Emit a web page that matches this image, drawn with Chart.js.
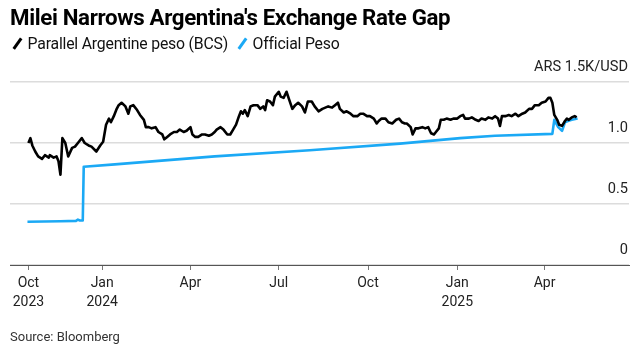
<!DOCTYPE html>
<html>
<head>
<meta charset="utf-8">
<script src="https://cdn.jsdelivr.net/npm/chart.js@4.4.1/dist/chart.umd.min.js"></script>
<style>
  html, body { margin: 0; padding: 0; background: #fff; }
  body { width: 640px; height: 352px; position: relative; overflow: hidden; font-family: Roboto, "Liberation Sans", sans-serif; color: #111; }
  #chart { position: absolute; left: 0; top: 0; }
  #title { position: absolute; left: 10px; top: 4px; font-size: 22.3px; font-weight: 700; letter-spacing: -0.35px; color: #000; }
  #legend { position: absolute; left: 12px; top: 34px; font-size: 15.8px; letter-spacing: -0.2px; color: #111; white-space: nowrap; }
  #legend .key { display: inline-block; width: 2.6px; height: 13px; transform: rotate(35deg); margin: 0 9px 0 4px; vertical-align: -1px; }
  #legend .item { margin-right: 9px; }
  #source { position: absolute; left: 10px; top: 329px; font-size: 13px; color: #333; }
</style>
</head>
<body>
<canvas id="chart" width="640" height="352"></canvas>
<div id="title">Milei Narrows Argentina's Exchange Rate Gap</div>
<div id="legend"><span class="key" style="background:#000"></span><span class="item">Parallel Argentine peso (BCS)</span><span class="key" style="background:#1ba9f5"></span><span class="item">Official Peso</span></div>
<div id="source">Source: Bloomberg</div>
<script>
// x values are days since 2024-01-01, y values are thousands of ARS per USD
const tickDays = [-76, 0, 91, 182, 274, 366, 456];
const tickLabels = [['Oct', '2023'], ['Jan', '2024'], ['Apr'], ['Jul'], ['Oct'], ['Jan', '2025'], ['Apr']];
const yTicks = [0, 0.5, 1.0, 1.5];
const yTickLabels = ['0', '0.5', '1.0', 'ARS 1.5K/USD'];

const parallelDays = [
  -76, -74, -72, -69, -66, -62, -59, -55, -54, -50, -47, -45, -43, -41, -38, -35, -31, -28, -24, -21,
  -18, -14, -11, -6, -2, 1, 4, 7, 9, 12, 15, 17, 20, 24, 27, 29, 32, 36, 39, 43,
  45, 48, 51, 55, 58, 62, 64, 67, 70, 74, 77, 80, 84, 87, 91, 93, 96, 99, 103, 106,
  110, 113, 116, 118, 122, 125, 129, 132, 135, 138, 141, 143, 145, 147, 150, 153, 156, 160, 163, 166,
  168, 170, 173, 176, 178, 182, 184, 187, 190, 193, 196, 199, 202, 206, 209, 212, 216, 219, 223, 227,
  230, 233, 237, 240, 243, 245, 249, 252, 256, 259, 263, 266, 269, 273, 276, 280, 283, 285, 288, 292,
  295, 299, 303, 306, 309, 312, 314, 318, 320, 323, 326, 330, 333, 336, 339, 342, 344, 347, 349, 352,
  355, 359, 362, 366, 369, 372, 374, 378, 381, 385, 388, 391, 395, 398, 402, 405, 408, 410, 412, 416,
  419, 422, 426, 429, 433, 436, 440, 443, 446, 450, 453, 457, 460, 462, 464, 466, 469, 471, 474, 477,
  479, 481, 484, 487, 489
];
const parallelValues = [
  1.00, 1.04, 0.98, 0.93, 0.89, 0.87, 0.90, 0.88, 0.90, 0.88, 0.89, 0.85, 0.74, 1.04, 1.00, 0.89, 0.96, 0.97, 1.01, 1.04,
  1.00, 0.98, 0.97, 0.93, 0.98, 1.01, 1.15, 1.20, 1.17, 1.22, 1.28, 1.31, 1.33, 1.30, 1.24, 1.30, 1.31, 1.27, 1.23, 1.19,
  1.13, 1.13, 1.12, 1.13, 1.09, 1.07, 1.03, 1.05, 1.07, 1.09, 1.09, 1.11, 1.09, 1.10, 1.13, 1.07, 1.05, 1.05, 1.07, 1.07,
  1.06, 1.07, 1.09, 1.11, 1.13, 1.11, 1.07, 1.07, 1.11, 1.15, 1.22, 1.26, 1.24, 1.27, 1.22, 1.30, 1.31, 1.31, 1.28, 1.30,
  1.27, 1.35, 1.34, 1.31, 1.38, 1.42, 1.38, 1.37, 1.42, 1.35, 1.28, 1.31, 1.33, 1.30, 1.25, 1.34, 1.34, 1.30, 1.26, 1.28,
  1.29, 1.30, 1.29, 1.31, 1.33, 1.28, 1.25, 1.26, 1.24, 1.22, 1.22, 1.24, 1.24, 1.22, 1.22, 1.20, 1.16, 1.18, 1.20, 1.20,
  1.17, 1.16, 1.19, 1.20, 1.17, 1.16, 1.16, 1.13, 1.07, 1.12, 1.12, 1.13, 1.12, 1.13, 1.08, 1.07, 1.09, 1.12, 1.19, 1.19,
  1.20, 1.19, 1.20, 1.20, 1.22, 1.23, 1.20, 1.20, 1.21, 1.19, 1.18, 1.20, 1.19, 1.21, 1.20, 1.22, 1.20, 1.14, 1.22, 1.22,
  1.23, 1.22, 1.24, 1.22, 1.24, 1.25, 1.28, 1.28, 1.31, 1.31, 1.33, 1.34, 1.37, 1.37, 1.33, 1.23, 1.19, 1.15, 1.14, 1.18,
  1.20, 1.19, 1.21, 1.22, 1.21
];

const officialDays = [-77, -43, -27, -25, -23, -20, -19, 13, 116, 214, 307, 369, 405, 464, 466, 470, 474, 477, 480, 484, 490];
const officialValues = [0.355, 0.358, 0.362, 0.372, 0.365, 0.365, 0.805, 0.825, 0.89, 0.94, 0.995, 1.04, 1.06, 1.075, 1.19, 1.13, 1.10, 1.17, 1.18, 1.19, 1.20];

const toPoints = (xs, ys) => xs.map((x, i) => ({ x: x, y: ys[i] }));

const ctx = document.getElementById('chart');

const chart = new Chart(ctx, {
  type: 'line',
  data: {
    datasets: [
      {
        label: 'Parallel Argentine peso (BCS)',
        data: toPoints(parallelDays, parallelValues),
        borderColor: '#000',
        borderWidth: 2.6,
        pointRadius: 0,
        tension: 0,
        borderJoinStyle: 'round',
      },
      {
        label: 'Official Peso',
        data: toPoints(officialDays, officialValues),
        borderColor: '#1ba9f5',
        borderWidth: 2.6,
        pointRadius: 0,
        tension: 0,
        borderJoinStyle: 'round',
      },
    ],
  },
  options: {
    responsive: false,
    animation: false,
    devicePixelRatio: 1,
    layout: { padding: { left: 10, right: 0, top: 82, bottom: 0 } },
    plugins: {
      legend: { display: false },
      tooltip: { enabled: false },
    },
    scales: {
      x: {
        type: 'linear',
        min: -95,
        max: 543,
        afterFit: (s) => { s.height = 87; },
        afterBuildTicks: (s) => { s.ticks = tickDays.map((v) => ({ value: v })); },
        grid: { drawOnChartArea: false, drawTicks: true, tickLength: 5, color: '#777', lineWidth: 1 },
        border: { display: true, color: '#555', width: 1 },
        ticks: {
          autoSkip: false,
          maxRotation: 0,
          padding: 4,
          color: '#222',
          font: { family: 'Roboto, "Liberation Sans", sans-serif', size: 14, lineHeight: 1.35 },
          callback: (value, i) => tickLabels[i],
        },
      },
      y: {
        position: 'right',
        min: 0,
        max: 1.5,
        afterFit: (s) => { s.width = 11; },
        afterBuildTicks: (s) => { s.ticks = yTicks.map((v) => ({ value: v })); },
        grid: { color: '#dcdcdc', lineWidth: 1.5, drawTicks: false },
        border: { display: false },
        ticks: {
          autoSkip: false,
          mirror: true,
          padding: -1,
          color: '#222',
          font: { family: 'Roboto, "Liberation Sans", sans-serif', size: 14.6, lineHeight: 2 },
          callback: (value, i) => [yTickLabels[i], ''],
        },
      },
    },
  },
});
</script>
</body>
</html>
